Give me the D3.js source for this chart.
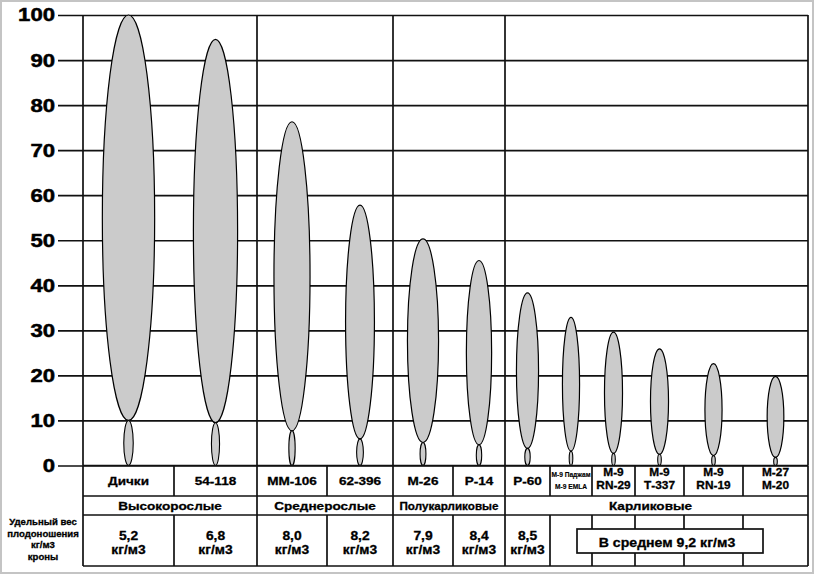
<!DOCTYPE html>
<html><head><meta charset="utf-8">
<script src="https://cdn.jsdelivr.net/npm/d3@7"></script>
<style>
html,body{margin:0;padding:0;background:#fff;}
svg{display:block;font-family:"Liberation Sans",Arial,sans-serif;font-weight:bold;}
</style></head>
<body>
<svg id="chart" width="815" height="575"></svg>
<script>
// ---- data ----
const categories = [["Дички"],["54-118"],["ММ-106"],["62-396"],["М-26"],["Р-14"],["Р-60"],
  ["М-9 Паджам","М-9 EMLA"],["М-9","RN-29"],["М-9","Т-337"],["М-9","RN-19"],["М-27","М-20"]];
const crownTop   = [100, 94.6, 76.3, 57.8, 50.3, 45.5, 38.3, 32.9, 29.6, 25.9, 22.6, 19.8];
const stemHeight = [10.0, 9.5, 7.7, 5.9, 5.1, 4.6, 3.8, 3.2, 2.7, 2.5, 2.2, 1.8];
const crownWidth = [11.6, 9.8, 8.0, 6.4, 6.9, 5.6, 4.9, 3.8, 4.0, 4.0, 3.8, 3.7];
const stemWidth  = [2.1, 1.8, 1.4, 1.5, 1.3, 1.2, 1.2, 0.8, 0.8, 0.8, 0.8, 0.8];
const groups     = ["Высокорослые","Среднерослые","Полукарликовые","Карликовые"];
const groupStart = [0, 2, 4, 6];
const groupEnd   = [2, 4, 6, 12];
const yieldValues = ["5,2","6,8","8,0","8,2","7,9","8,4","8,5"];
const yieldUnit = "кг/м3";
const averageNote = "В среднем 9,2 кг/м3";
const rowTitle = ["Удельный вес","плодоношения","кг/м3","кроны"];
const yTicks = [0,10,20,30,40,50,60,70,80,90,100];

// ---- layout ----
const colEdges = [83,174,257,327,393,453,505,550,592,635,684,743,808];
const gridLeft = 58;
const svg = d3.select("#chart");
const x = d3.scaleLinear().domain(d3.range(colEdges.length)).range(colEdges);
const y = d3.scaleLinear().domain([0,100]).range([465.5,15]);
const w = d3.scaleLinear().domain([0,100]).range([0,451]);
const r0 = y(0), r1 = 496, r2 = 515, r3 = 566;
const lineColor = "#111", lw = 1.7;

svg.append("rect").attr("x",1).attr("y",1).attr("width",812).attr("height",572)
  .attr("fill","#fff").attr("stroke","#c4c4c4").attr("stroke-width",2);

// axis with gridlines
const axis = svg.append("g").attr("transform",`translate(${gridLeft},0)`)
  .call(d3.axisLeft(y).tickValues(yTicks).tickSize(-(colEdges[colEdges.length-1]-gridLeft)).tickPadding(3));
axis.select(".domain").remove();
axis.selectAll(".tick line").attr("stroke",lineColor).attr("stroke-width",lw);
axis.selectAll(".tick text").attr("fill","#000").attr("font-size",18.6)
  .attr("font-family","'Liberation Sans',Arial,sans-serif").attr("font-weight","bold")
  .attr("stroke","#000").attr("stroke-width",0.5)
  .attr("transform","scale(1.19,1)").attr("x",-3/1.19);

// group verticals in plot
const groupEdges = [0].concat(groupEnd);
svg.selectAll("line.gv").data(groupEdges).join("line").attr("class","gv")
  .attr("x1",d=>x(d)).attr("x2",d=>x(d)).attr("y1",y(100)).attr("y2",r0)
  .attr("stroke",lineColor).attr("stroke-width",lw);

// ellipses
const idx = d3.range(categories.length);
svg.selectAll("ellipse.crown").data(idx).join("ellipse").attr("class","crown")
  .attr("cx",i=>x(i+0.5)).attr("cy",i=>y((crownTop[i]+stemHeight[i])/2))
  .attr("rx",i=>w(crownWidth[i])/2).attr("ry",i=>(y(stemHeight[i])-y(crownTop[i]))/2)
  .attr("fill","#cbcbcb").attr("stroke","#000").attr("stroke-width",1.2);
svg.selectAll("ellipse.stem").data(idx).join("ellipse").attr("class","stem")
  .attr("cx",i=>x(i+0.5)).attr("cy",i=>y(stemHeight[i]/2))
  .attr("rx",i=>w(stemWidth[i])/2).attr("ry",i=>(y(0)-y(stemHeight[i]))/2)
  .attr("fill","#cbcbcb").attr("stroke","#000").attr("stroke-width",1.1);

// helper for wide text
function wtext(px,py,str,size,sx,anchor){
  const g = svg.append("g").attr("transform",`translate(${px},${py})`);
  g.append("text").attr("transform",`scale(${sx},1)`).attr("text-anchor",anchor||"middle")
    .attr("font-size",size).attr("fill","#000").attr("stroke","#000").attr("stroke-width",size>9?0.3:0.15).text(str);
  return g;
}
function hline(x1,x2,yy){svg.append("line").attr("x1",x1).attr("x2",x2).attr("y1",yy).attr("y2",yy).attr("stroke",lineColor).attr("stroke-width",lw);}
function vline(xx,y1,y2){svg.append("line").attr("x1",xx).attr("x2",xx).attr("y1",y1).attr("y2",y2).attr("stroke",lineColor).attr("stroke-width",lw);}

// table
const L = colEdges[0], R = colEdges[colEdges.length-1];
hline(L,R,r0); hline(L,R,r1); hline(L,R,r2); hline(L,R,r3);
colEdges.forEach(e=>{ vline(e,r0,r1); vline(e,r2,r3); });
groupEdges.forEach(g=>vline(x(g),r1,r2));

// category labels
categories.forEach((lines,i)=>{
  const cx = x(i+0.5);
  if(lines.length===1){
    wtext(cx,485,lines[0],11.8,1.15);
  } else if(i===7){
    wtext(cx,477,lines[0],6.6,1.0);
    wtext(cx,489,lines[1],6.6,1.0);
  } else {
    wtext(cx,476,lines[0],10.6,1.12);
    wtext(cx,489,lines[1],10.6,1.12);
  }
});
// groups
groups.forEach((g,i)=>{
  const narrow = (i===2);
  wtext((x(groupStart[i])+x(groupEnd[i]))/2 - (i===3?6:0),510,g,narrow?11:11.8,narrow?1.06:1.15);
});
// yield values
yieldValues.forEach((v,i)=>{
  const cx = x(i+0.5);
  wtext(cx,539.5,v,12.8,1.08);
  wtext(cx,554,yieldUnit,12.3,1.12);
});
// average box
const bx1 = 577, bx2 = 763;
svg.append("rect").attr("x",bx1).attr("y",529).attr("width",bx2-bx1).attr("height",24)
  .attr("fill","#fff").attr("stroke",lineColor).attr("stroke-width",lw);
wtext((bx1+bx2)/2-3,546.5,averageNote,12.6,1.12);

// row title
rowTitle.forEach((t,i)=>{
  wtext(43,[524.5,536.5,548,560][i],t,9.6,1.0);
});
</script>
</body></html>
